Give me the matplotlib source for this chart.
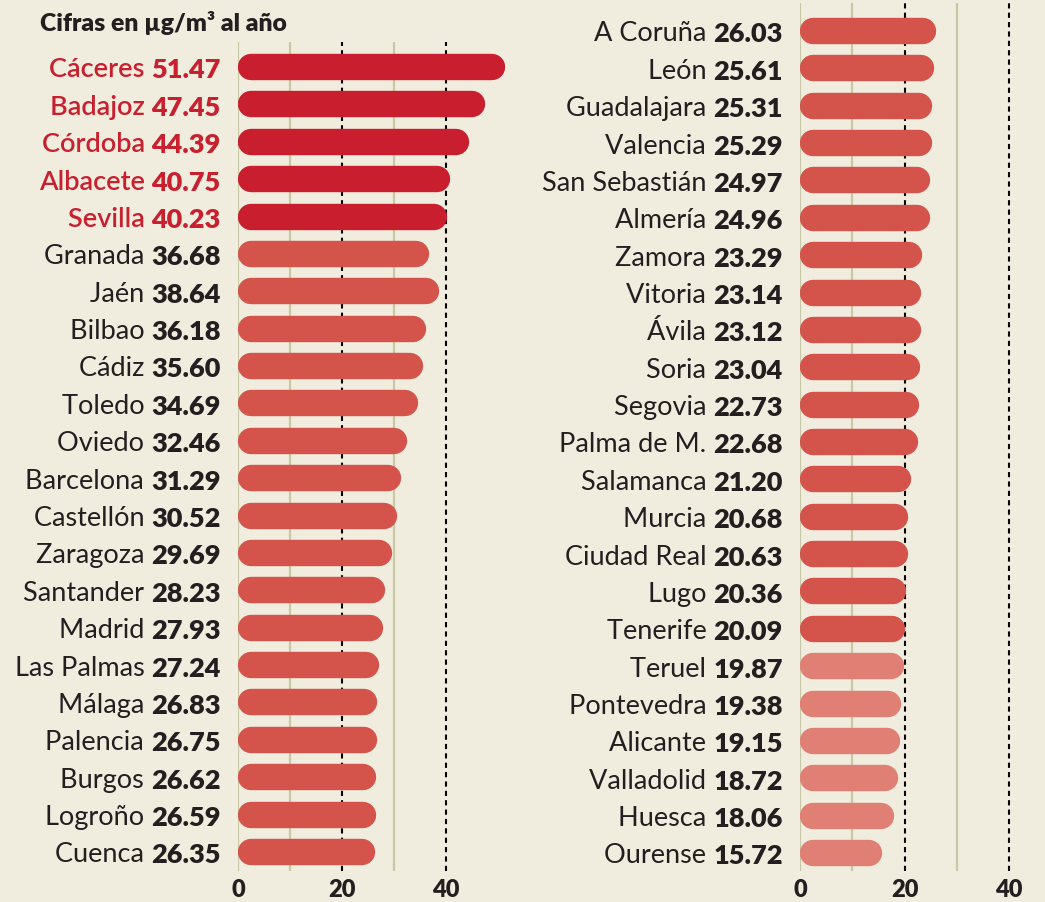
import matplotlib
matplotlib.use("Agg")
import matplotlib.pyplot as plt

plt.rcParams['font.family'] = ['Lato', 'DejaVu Sans']

title = "Cifras en µg/m³ al año"

left_cities = ["Cáceres", "Badajoz", "Córdoba", "Albacete", "Sevilla", "Granada", "Jaén",
               "Bilbao", "Cádiz", "Toledo", "Oviedo", "Barcelona", "Castellón", "Zaragoza",
               "Santander", "Madrid", "Las Palmas", "Málaga", "Palencia", "Burgos",
               "Logroño", "Cuenca"]
left_values = [51.47, 47.45, 44.39, 40.75, 40.23, 36.68, 38.64, 36.18, 35.60, 34.69, 32.46,
               31.29, 30.52, 29.69, 28.23, 27.93, 27.24, 26.83, 26.75, 26.62, 26.59, 26.35]

right_cities = ["A Coruña", "León", "Guadalajara", "Valencia", "San Sebastián", "Almería",
                "Zamora", "Vitoria", "Ávila", "Soria", "Segovia", "Palma de M.", "Salamanca",
                "Murcia", "Ciudad Real", "Lugo", "Tenerife", "Teruel", "Pontevedra",
                "Alicante", "Valladolid", "Huesca", "Ourense"]
right_values = [26.03, 25.61, 25.31, 25.29, 24.97, 24.96, 23.29, 23.14, 23.12, 23.04, 22.73,
                22.68, 21.20, 20.68, 20.63, 20.36, 20.09, 19.87, 19.38, 19.15, 18.72, 18.06,
                15.72]

ticks = [0, 20, 40]
solid_grid = [0, 10, 30]
dashed_grid = [20, 40]

BG = "#F1EDDE"
DARK = "#C81E2E"
MED = "#D4534B"
LIGHT = "#E07F73"
OLIVE = "#C7C9A6"
INK = "#231F20"
RED_TXT = "#C8202F"

W, H = 1045, 903
fig = plt.figure(figsize=(W / 100, H / 100), dpi=100)
fig.patch.set_facecolor(BG)

def px_axes(x0, top, w, bottom):
    return fig.add_axes([x0 / W, (H - bottom) / H, w / W, (bottom - top) / H])

axL = px_axes(238, 43, 286, 872)
axR = px_axes(800, 4, 243, 872)

BAR_PT = 19.0  # bar thickness in points
FS = 19.5

def draw_panel(ax, cities, values, colors, txtcolors, nameweights, xmax, ylim):
    ax.set_facecolor("none")
    ax.set_xlim(0, xmax)
    ax.set_ylim(*ylim)
    for s in ax.spines.values():
        s.set_visible(False)
    ax.set_yticks([])
    ax.set_xticks(ticks)
    ax.set_xticklabels([str(t) for t in ticks], fontsize=17, fontweight='heavy', color=INK)
    ax.tick_params(axis='x', length=0, pad=5)
    for g in solid_grid:
        ax.axvline(g, color=OLIVE, lw=1.6, zorder=1)
    for g in dashed_grid:
        ax.axvline(g, color="black", lw=1.5, linestyle=(0, (2.5, 2.0)), zorder=1)
    fig.canvas.draw()
    px_per_unit = (ax.transData.transform((1, 0))[0] - ax.transData.transform((0, 0))[0])
    r = (BAR_PT / 2 * fig.dpi / 72) / px_per_unit
    for i, (c, v) in enumerate(zip(cities, values)):
        ax.plot([r, v - r], [i, i], color=colors[i], lw=BAR_PT,
                solid_capstyle='round', zorder=3)
        vt = ax.annotate(f"{v:.2f}", xy=(0, i), xytext=(-12.5, -7.5),
                         textcoords='offset points', ha='right', va='baseline',
                         fontsize=FS, fontweight='heavy', color=txtcolors[i],
                         annotation_clip=False)
        ax.annotate(c + " ", xy=(0, 0), xycoords=vt, ha='right', va='bottom',
                    fontsize=FS, fontweight=nameweights[i], color=txtcolors[i],
                    annotation_clip=False)

left_colors = [DARK if i < 5 else MED for i in range(len(left_values))]
left_txt = [RED_TXT if i < 5 else INK for i in range(len(left_values))]
left_w = ['semibold' if i < 5 else 'normal' for i in range(len(left_values))]
right_colors = [MED if i < 17 else LIGHT for i in range(len(right_values))]
right_txt = [INK] * len(right_values)
right_w = ['normal'] * len(right_values)

draw_panel(axL, left_cities, left_values, left_colors, left_txt, left_w, 55,
           (21 + 19 / 37.4, -25 / 37.4))
draw_panel(axR, right_cities, right_values, right_colors, right_txt, right_w, 46.5,
           (22 + 18 / 37.36, -28 / 37.36))

fig.text(40 / W, 1 - 23 / H, title, fontsize=17.8, fontweight='heavy', color=INK,
         ha='left', va='center')

fig.savefig("out.png", dpi=100, facecolor=BG)
